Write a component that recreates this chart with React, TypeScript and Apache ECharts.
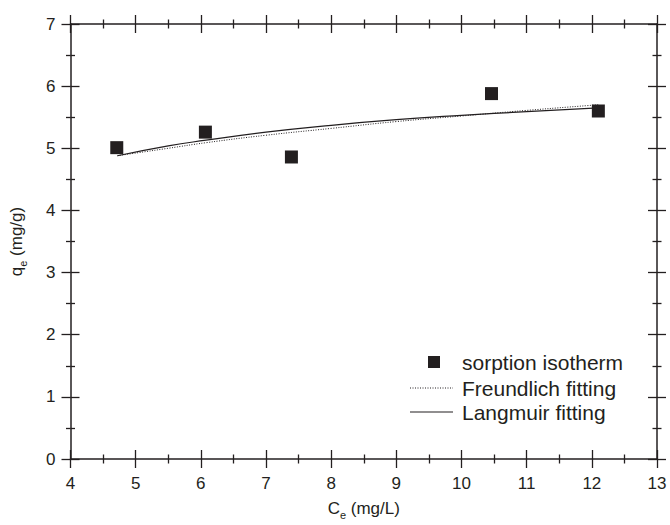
import React, { useEffect, useRef } from "react";
import * as echarts from "echarts";

const sorptionCe = [4.71, 6.07, 7.39, 10.46, 12.1];
const sorptionQe = [5.01, 5.26, 4.86, 5.88, 5.6];

const fitCe = [4.72, 5.5, 6.08, 7, 8, 9, 10, 11, 12.1];
const freundlichQe = [4.88, 5.0, 5.09, 5.21, 5.32, 5.43, 5.52, 5.61, 5.7];
const langmuirQe = [4.88, 5.04, 5.13, 5.26, 5.37, 5.46, 5.53, 5.59, 5.65];

const legendNames = ["sorption isotherm", "Freundlich fitting", "Langmuir fitting"];

const xTicks = { min: 4, max: 13, interval: 1 };
const yTicks = { min: 0, max: 7, interval: 1 };

const INK = "#231f20";
const FONT = "Liberation Sans, Arial, sans-serif";

function pair(xs: number[], ys: number[]) {
  return xs.map((x, i) => [x, ys[i]]);
}

export default function App() {
  const ref = useRef<HTMLDivElement>(null);
  useEffect(() => {
    if (!ref.current) return;
    const chart = echarts.init(ref.current, undefined, { renderer: "svg" });
    const tickStyle = { color: INK, width: 1.3 };
    const mkAxis = (range: any, position: string, mode: "main" | "in" | "out", extra: any = {}) => ({
      type: "value",
      position,
      ...range,
      axisLine:
        mode === "main"
          ? { show: true, onZero: false, lineStyle: { color: INK, width: 1.5 } }
          : { show: false, onZero: false },
      axisTick:
        mode === "main"
          ? { show: false }
          : { show: true, inside: mode === "in", length: 9, lineStyle: tickStyle },
      minorTick:
        mode === "main"
          ? { show: false }
          : { show: true, splitNumber: 2, length: 4.5, lineStyle: tickStyle },
      axisLabel: { show: false },
      splitLine: { show: false },
      minorSplitLine: { show: false },
      ...extra,
    });
    const rich = {
      m: { fontSize: 17, lineHeight: 24, fontFamily: FONT, color: INK },
      s: { fontSize: 11, lineHeight: 11, fontFamily: FONT, color: INK, verticalAlign: "bottom" },
    };
    const labelBase = { show: true, color: INK, fontSize: 17, fontFamily: FONT, showMinLabel: true, showMaxLabel: true };
    const legendRowsY = [362, 388, 412];
    chart.setOption({
      animation: false,
      backgroundColor: "#ffffff",
      grid: { left: 70, right: 13, top: 24, bottom: 62 },
      xAxis: [
        mkAxis(xTicks, "bottom", "main", {
          axisLabel: { ...labelBase, margin: 16 },
          name: "{m|C}{s|e}{m| (mg/L)}",
          nameLocation: "middle",
          nameGap: 37,
          nameTextStyle: { rich },
        }),
        mkAxis(xTicks, "bottom", "in"),
        mkAxis(xTicks, "bottom", "out"),
        mkAxis(xTicks, "top", "main"),
        mkAxis(xTicks, "top", "in"),
        mkAxis(xTicks, "top", "out"),
      ],
      yAxis: [
        mkAxis(yTicks, "left", "main", {
          axisLabel: { ...labelBase, margin: 15 },
          name: "{m|q}{s|e}{m| (mg/g)}",
          nameLocation: "middle",
          nameGap: 42,
          nameTextStyle: { rich },
        }),
        mkAxis(yTicks, "left", "in"),
        mkAxis(yTicks, "left", "out"),
        mkAxis(yTicks, "right", "main"),
        mkAxis(yTicks, "right", "in"),
        mkAxis(yTicks, "right", "out"),
      ],
      graphic: [
        { type: "rect", shape: { x: 428, y: legendRowsY[0] - 6, width: 12, height: 12 }, style: { fill: INK } },
        {
          type: "line",
          shape: { x1: 410, y1: legendRowsY[1], x2: 453, y2: legendRowsY[1] },
          style: { stroke: INK, lineWidth: 1, lineDash: [1, 1.5] },
        },
        {
          type: "line",
          shape: { x1: 410, y1: legendRowsY[2], x2: 453, y2: legendRowsY[2] },
          style: { stroke: INK, lineWidth: 1.2 },
        },
        ...legendNames.map((n, i) => ({
          type: "text",
          x: 462,
          y: legendRowsY[i],
          style: {
            text: n,
            fill: INK,
            font: `21px ${FONT}`,
            textVerticalAlign: "middle",
            verticalAlign: "middle",
          },
        })),
      ],
      series: [
        {
          name: legendNames[0],
          type: "scatter",
          symbol: "rect",
          symbolSize: 13,
          itemStyle: { color: INK, opacity: 1 },
          data: pair(sorptionCe, sorptionQe),
          z: 5,
        },
        {
          name: legendNames[1],
          type: "line",
          smooth: true,
          symbol: "none",
          showSymbol: false,
          lineStyle: { color: INK, width: 1, type: [1, 1.5] },
          data: pair(fitCe, freundlichQe),
        },
        {
          name: legendNames[2],
          type: "line",
          smooth: true,
          symbol: "none",
          showSymbol: false,
          lineStyle: { color: INK, width: 1.2, type: "solid" },
          data: pair(fitCe, langmuirQe),
        },
      ],
    });
    return () => chart.dispose();
  }, []);
  return (
    <div
      ref={ref}
      style={{ position: "fixed", left: 0, top: 0, width: 670, height: 525, background: "#fff" }}
    />
  );
}
